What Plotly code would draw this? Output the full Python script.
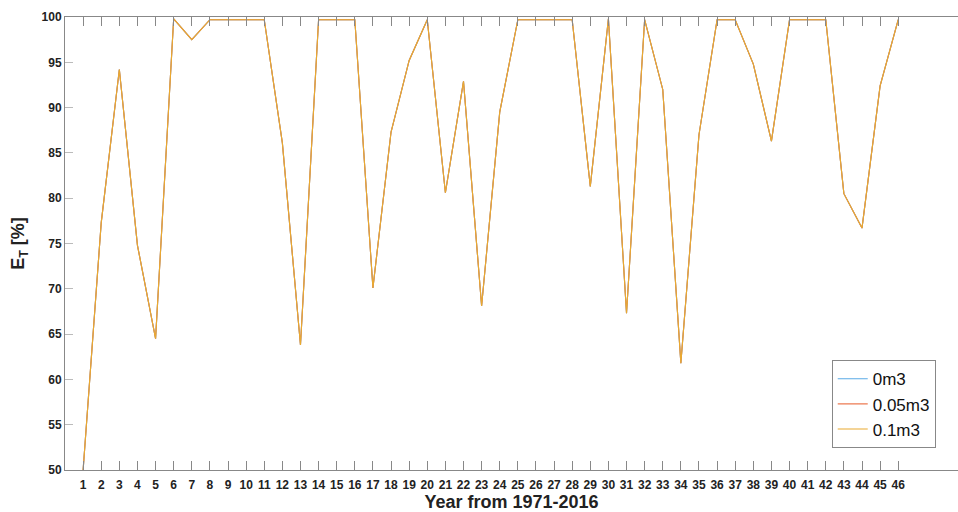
import plotly.graph_objects as go

years = list(range(1, 47))
et_0m3 = [50.0, 77.3, 94.2, 74.8, 64.5, 99.8, 97.5, 99.7, 99.7, 99.7,
          99.7, 86.1, 63.8, 99.7, 99.7, 99.7, 70.1, 87.3, 95.2, 99.7,
          80.6, 92.9, 68.1, 89.5, 99.7, 99.7, 99.7, 99.7, 81.3, 99.8,
          67.3, 99.7, 92.0, 61.8, 87.0, 99.7, 99.7, 94.8, 86.3, 99.7,
          99.7, 99.7, 80.5, 76.7, 92.4, 99.7]
et_005m3 = list(et_0m3)
et_01m3 = list(et_0m3)

series_names = ["0m3", "0.05m3", "0.1m3"]
series_vals = [et_0m3, et_005m3, et_01m3]
series_colors = ["#5AAAE6", "#EC7A52", "#E9AA30"]

fig = go.Figure()
for name, vals, col in zip(series_names, series_vals, series_colors):
    fig.add_trace(go.Scatter(x=years, y=vals, mode="lines", name=name,
                             line=dict(color=col, width=1.1)))

fig.update_layout(
    width=958, height=512,
    margin=dict(l=65, r=0, t=17, b=42),
    plot_bgcolor="white", paper_bgcolor="white",
    font=dict(family="Liberation Sans", color="#222222"),
    showlegend=True,
    legend=dict(x=0.8586, y=0.048, xanchor="left", yanchor="bottom",
                bgcolor="white", bordercolor="#888888", borderwidth=1,
                font=dict(size=17, family="Liberation Sans", color="#111111"),
                tracegroupgap=0, itemwidth=30),
)
fig.update_xaxes(
    range=[0, 49.3], tickmode="array", tickvals=years,
    ticktext=[str(y) for y in years],
    ticks="inside", ticklen=9, tickcolor="#888888", tickwidth=1,
    showline=True, linecolor="#888888", linewidth=1, mirror="ticks",
    showgrid=False, zeroline=False, ticklabelstandoff=4, automargin=False,
    tickfont=dict(size=12, family="Liberation Sans", weight="bold", color="#222222"),
    title=dict(text="Year from 1971-2016", standoff=13,
               font=dict(size=18, family="Liberation Sans", weight="bold", color="#222222")),
)
fig.update_yaxes(
    range=[50, 100], tickmode="array", tickvals=list(range(50, 101, 5)),
    ticks="inside", ticklen=8, tickcolor="#bbbbbb", tickwidth=1,
    showline=True, linecolor="#888888", linewidth=1,
    showgrid=False, zeroline=False, automargin=False,
    tickfont=dict(size=12, family="Liberation Sans", weight="bold", color="#222222"),
    title=dict(text="E<sub>T</sub> [%]", standoff=12,
               font=dict(size=18, family="Liberation Sans", weight="bold", color="#222222")),
)

fig.write_html("out.html")
